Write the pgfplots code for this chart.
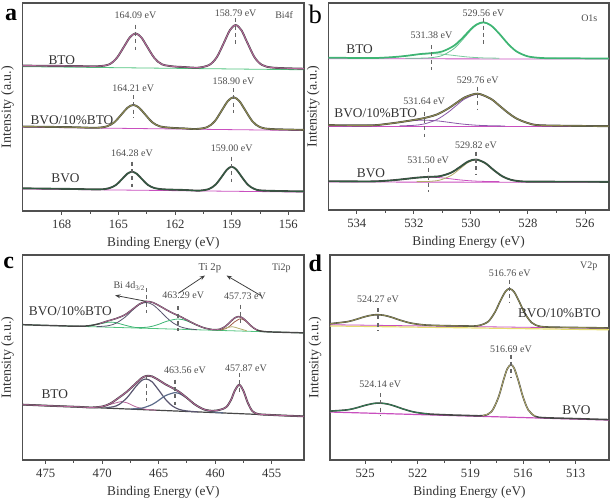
\documentclass[border=0pt]{standalone}
\usepackage{fontspec}
\setmainfont{Liberation Serif}
\usepackage{pgfplots}
\pgfplotsset{compat=1.18}
\usetikzlibrary{arrows.meta}

\definecolor{frame}{HTML}{505050}
\definecolor{envdk}{HTML}{474747}
\definecolor{pinkc}{HTML}{B8679C}
\definecolor{olivec}{HTML}{8E8C4E}
\definecolor{dkgreen}{HTML}{2F5E40}
\definecolor{magbl}{HTML}{C94FBF}
\definecolor{grnbl}{HTML}{52C47F}
\definecolor{greenc}{HTML}{3FB574}
\definecolor{purpc}{HTML}{8A5AA8}
\definecolor{graycomp}{HTML}{5A5670}
\definecolor{bluecomp}{HTML}{5B6B8A}
\definecolor{brownc}{HTML}{A0604C}
\definecolor{lolive}{HTML}{B3AC6A}
\definecolor{yelbl}{HTML}{E6DD6E}

\pgfplotsset{
  xps/.style={
    scale only axis, clip=false, anchor=north west,
    x dir=reverse, ymin=0, ymax=100, ytick=\empty,
    xtick pos=left, tick align=outside,
    minor x tick num=1,
    major tick length=3pt, minor tick length=2pt,
    every tick/.style={draw=frame, line width=0.7pt},
    axis line style={draw=frame, line width=0.9pt},
    xlabel={Binding Energy (eV)}, ylabel={Intensity (a.u.)},
    /pgf/number format/assume math mode=true,
    /pgf/number format/1000 sep={},
    xticklabel style={font=\fontsize{9.5}{10}\selectfont, text=black!80},
    xlabel style={font=\fontsize{10}{11}\selectfont, text=black!80},
    ylabel style={font=\fontsize{10.5}{12}\selectfont, text=black!80},
  },
  envd/.style={draw=envdk, line width=1.4pt, smooth},
  env/.style={smooth, line width=0.7pt},
  comp/.style={smooth, line width=0.6pt},
  bl/.style={line width=0.6pt},
}
\tikzset{
  mk/.style={draw=black!60, line width=0.9pt, dash pattern=on 3pt off 2.5pt},
  ann/.style={font=\fontsize{7.5}{8}\selectfont, text=black!70},
  samp/.style={font=\fontsize{10}{11}\selectfont, text=black!80},
  plab/.style={font=\fontsize{18}{18}\selectfont\bfseries},
}

\begin{document}
\begin{tikzpicture}
\useasboundingbox (0,0) rectangle (460.5pt,-373.5pt);

% ---------------- a: Bi4f
\begin{axis}[xps, at={(17pt,-2.25pt)}, width=211pt, height=156pt,
  xmin=155.17, xmax=170.07, xtick={156,159,162,165,168}]
% BTO
\addplot[bl, grnbl] coordinates {(170.07,69.4) (155.17,67.9)};
\addplot[envd] coordinates {(170.07,69.9) (167.5,69.7) (166.09,69.6) (165.49,70.5) (165.09,73.5) (164.69,79.2) (164.39,83.5) (164.09,85.4) (163.79,83.5) (163.49,79.2) (163.09,73.5) (162.69,70.5) (162.09,69.5) (161.5,69.2) (160.79,68.9) (160.19,70.2) (159.79,73.9) (159.39,81.3) (159.09,87.0) (158.79,89.4) (158.49,87.0) (158.19,81.3) (157.79,73.9) (157.39,70.2) (156.79,68.9) (155.17,68.4)};
\addplot[env, pinkc] coordinates {(170.07,69.9) (167.5,69.7) (166.09,69.6) (165.49,70.5) (165.09,73.5) (164.69,79.2) (164.39,83.5) (164.09,85.4) (163.79,83.5) (163.49,79.2) (163.09,73.5) (162.69,70.5) (162.09,69.5) (161.5,69.2) (160.79,68.9) (160.19,70.2) (159.79,73.9) (159.39,81.3) (159.09,87.0) (158.79,89.4) (158.49,87.0) (158.19,81.3) (157.79,73.9) (157.39,70.2) (156.79,68.9) (155.17,68.4)};
% BVO/10%BTO
\addplot[bl, magbl] coordinates {(170.07,40.3) (155.17,38.7)};
\addplot[envd] coordinates {(170.07,40.6) (167.5,40.3) (166.21,40.0) (165.61,40.7) (165.21,42.7) (164.81,46.7) (164.51,49.7) (164.21,51.0) (163.91,49.7) (163.61,46.7) (163.21,42.7) (162.81,40.7) (162.21,40.0) (161.5,39.7) (160.9,39.4) (160.3,40.3) (159.9,43.1) (159.5,48.7) (159.2,52.9) (158.9,54.7) (158.6,52.9) (158.3,48.7) (157.9,43.1) (157.5,40.3) (156.9,39.4) (155.17,39.0)};
\addplot[env, olivec] coordinates {(170.07,40.6) (167.5,40.3) (166.21,40.0) (165.61,40.7) (165.21,42.7) (164.81,46.7) (164.51,49.7) (164.21,51.0) (163.91,49.7) (163.61,46.7) (163.21,42.7) (162.81,40.7) (162.21,40.0) (161.5,39.7) (160.9,39.4) (160.3,40.3) (159.9,43.1) (159.5,48.7) (159.2,52.9) (158.9,54.7) (158.6,52.9) (158.3,48.7) (157.9,43.1) (157.5,40.3) (156.9,39.4) (155.17,39.0)};
% BVO
\addplot[bl, magbl] coordinates {(170.07,10.6) (155.17,9.1)};
\addplot[envd] coordinates {(170.07,10.9) (167.5,10.6) (165.98,10.4) (165.48,11.0) (165.13,12.5) (164.78,15.6) (164.53,17.9) (164.28,18.9) (164.03,17.9) (163.78,15.6) (163.43,12.5) (163.08,11.0) (162.58,10.4) (161.5,10.1) (160.7,9.8) (160.2,10.6) (159.85,12.7) (159.5,16.8) (159.25,19.9) (159.0,21.3) (158.75,19.9) (158.5,16.8) (158.15,12.7) (157.8,10.6) (157.3,9.8) (155.17,9.4)};
\addplot[env, dkgreen] coordinates {(170.07,10.9) (167.5,10.6) (165.98,10.4) (165.48,11.0) (165.13,12.5) (164.78,15.6) (164.53,17.9) (164.28,18.9) (164.03,17.9) (163.78,15.6) (163.43,12.5) (163.08,11.0) (162.58,10.4) (161.5,10.1) (160.7,9.8) (160.2,10.6) (159.85,12.7) (159.5,16.8) (159.25,19.9) (159.0,21.3) (158.75,19.9) (158.5,16.8) (158.15,12.7) (157.8,10.6) (157.3,9.8) (155.17,9.4)};
\draw[mk] (axis cs:164.09,89.6) -- (axis cs:164.09,77.4);
\draw[mk] (axis cs:158.79,92.6) -- (axis cs:158.79,80.0);
\draw[mk] (axis cs:164.21,55.8) -- (axis cs:164.21,44.7);
\draw[mk] (axis cs:158.90,59.1) -- (axis cs:158.90,47.1);
\draw[mk] (axis cs:164.28,23.7) -- (axis cs:164.28,11.7);
\draw[mk] (axis cs:159.00,26.1) -- (axis cs:159.00,14.1);
\node[ann] at (axis cs:164.09,94.2) {164.09 eV};
\node[ann] at (axis cs:158.79,95.0) {158.79 eV};
\node[ann] at (axis cs:164.21,59.0) {164.21 eV};
\node[ann] at (axis cs:158.90,62.2) {158.90 eV};
\node[ann] at (axis cs:164.28,27.7) {164.28 eV};
\node[ann] at (axis cs:159.00,30.1) {159.00 eV};
\node[ann, anchor=east] at (axis cs:155.5,94.2) {Bi4f};
\node[samp] at (axis cs:168.0,72.6) {BTO};
\node[samp, anchor=west] at (axis cs:169.9,43.8) {BVO/10\%BTO};
\node[samp] at (axis cs:167.8,15.7) {BVO};
\end{axis}

% ---------------- b: O1s
\begin{axis}[xps, at={(246.2pt,-2.25pt)}, width=210.5pt, height=155.25pt,
  xmin=525.16, xmax=535.0, xtick={526,528,530,532,534}]
% BTO
\addplot[bl, magbl] coordinates {(535.0,73.1) (525.16,72.9)};
\addplot[comp, greenc!70] coordinates {(534.0,73.3) (533.5,73.37) (532.8,73.76) (532.3,74.44) (531.8,75.22) (531.38,75.5) (531.0,75.26) (530.6,74.67) (530.3,74.18) (530.0,73.8) (529.56,73.47) (529.0,73.33)};
\addplot[comp, greenc!80] coordinates {(532.3,73.3) (531.8,73.34) (531.38,73.6) (531.0,74.67) (530.6,77.89) (530.3,82.12) (530.0,86.87) (529.8,89.33) (529.56,90.5) (529.3,89.14) (529.0,85.03) (528.7,80.27) (528.4,76.62) (528.0,74.18) (527.5,73.4) (527.0,73.3)};
\addplot[env, greenc, line width=1.3pt] coordinates {(535.0,73.6) (533.5,73.4) (532.8,73.8) (532.3,74.4) (531.8,75.3) (531.38,75.8) (531.0,76.6) (530.6,79.3) (530.3,83.0) (530.0,87.4) (529.8,89.6) (529.56,90.7) (529.3,89.2) (529.0,85.1) (528.7,80.3) (528.4,76.6) (528.0,74.2) (527.5,73.4) (527.0,73.3) (525.16,73.2)};
% BVO/10%BTO
\addplot[bl, magbl] coordinates {(535.0,40.4) (525.16,40.3)};
\addplot[comp, purpc] coordinates {(534.5,40.6) (533.5,40.93) (533.0,41.49) (532.5,42.37) (532.0,43.18) (531.64,43.4) (531.2,43.08) (530.8,42.41) (530.5,41.85) (530.2,41.38) (529.76,40.92) (529.3,40.7) (528.8,40.6)};
\addplot[comp, purpc] coordinates {(532.5,40.64) (532.0,40.9) (531.64,41.56) (531.2,43.63) (530.8,47.18) (530.5,50.58) (530.2,53.76) (529.76,55.9) (529.3,53.57) (529.0,50.35) (528.7,46.96) (528.4,44.21) (528.0,41.96) (527.5,40.88) (527.0,40.6)};
\addplot[envd] coordinates {(535.0,41.0) (533.5,40.9) (533.0,41.5) (532.5,42.4) (532.0,43.5) (531.64,44.4) (531.2,46.1) (530.8,49.0) (530.5,51.8) (530.2,54.5) (529.76,56.2) (529.3,53.7) (529.0,50.4) (528.7,47.0) (528.4,44.2) (528.0,42.0) (527.5,40.9) (525.16,40.5)};
\addplot[env, olivec] coordinates {(535.0,41.0) (533.5,40.9) (533.0,41.5) (532.5,42.4) (532.0,43.5) (531.64,44.4) (531.2,46.1) (530.8,49.0) (530.5,51.8) (530.2,54.5) (529.76,56.2) (529.3,53.7) (529.0,50.4) (528.7,47.0) (528.4,44.2) (528.0,42.0) (527.5,40.9) (525.16,40.5)};
% BVO
\addplot[bl, magbl] coordinates {(535.0,13.5) (525.16,13.4)};
\addplot[comp, magbl] coordinates {(534.2,13.7) (533.5,13.8) (532.8,14.29) (532.3,15.04) (531.9,15.64) (531.5,15.9) (531.1,15.64) (530.7,15.04) (530.4,14.56) (530.1,14.18) (529.82,13.94) (529.5,13.8) (529.0,13.7)};
\addplot[comp, lolive] coordinates {(531.9,13.7) (531.5,13.79) (531.1,14.4) (530.7,16.62) (530.4,19.72) (530.1,22.92) (529.82,24.2) (529.5,22.56) (529.2,19.27) (528.9,16.29) (528.6,14.59) (528.2,13.84) (527.6,13.7)};
\addplot[envd] coordinates {(535.0,13.9) (533.5,13.8) (532.8,14.3) (532.3,15.0) (531.9,15.6) (531.5,16.0) (531.1,16.3) (530.7,18.0) (530.4,20.6) (530.1,23.4) (529.82,24.4) (529.5,22.7) (529.2,19.3) (528.9,16.3) (528.6,14.6) (528.2,13.8) (527.5,13.7) (525.16,13.6)};
\addplot[env, dkgreen] coordinates {(535.0,13.9) (533.5,13.8) (532.8,14.3) (532.3,15.0) (531.9,15.6) (531.5,16.0) (531.1,16.3) (530.7,18.0) (530.4,20.6) (530.1,23.4) (529.82,24.4) (529.5,22.7) (529.2,19.3) (528.9,16.3) (528.6,14.6) (528.2,13.8) (527.5,13.7) (525.16,13.6)};
\draw[mk] (axis cs:529.56,92.6) -- (axis cs:529.56,80.0);
\draw[mk] (axis cs:531.38,79.7) -- (axis cs:531.38,67.6);
\draw[mk] (axis cs:529.76,59.6) -- (axis cs:529.76,48.3);
\draw[mk] (axis cs:531.64,47.5) -- (axis cs:531.64,35.4);
\draw[mk] (axis cs:529.82,28.2) -- (axis cs:529.82,16.9);
\draw[mk] (axis cs:531.50,20.1) -- (axis cs:531.50,8.8);
\node[ann] at (axis cs:529.56,95.0) {529.56 eV};
\node[ann] at (axis cs:531.38,84.5) {531.38 eV};
\node[ann] at (axis cs:529.76,62.8) {529.76 eV};
\node[ann] at (axis cs:531.64,52.3) {531.64 eV};
\node[ann] at (axis cs:529.82,31.4) {529.82 eV};
\node[ann] at (axis cs:531.50,24.2) {531.50 eV};
\node[ann, anchor=east] at (axis cs:525.4,92.6) {O1s};
\node[samp] at (axis cs:533.9,77.6) {BTO};
\node[samp, anchor=west] at (axis cs:534.95,46.7) {BVO/10\%BTO};
\node[samp] at (axis cs:533.5,18.0) {BVO};
\end{axis}

% ---------------- c: Ti2p
\begin{axis}[xps, at={(17pt,-191.25pt)}, width=211pt, height=153.75pt,
  xmin=452.14, xmax=477.04, xtick={455,460,465,470,475}]
% BVO/10%BTO
\addplot[bl, grnbl] coordinates {(477.04,66.0) (452.14,62.0)};
\addplot[comp, greenc] coordinates {(471.5,65.3) (470.2,66.43) (469.5,67.19) (469.2,67.25) (468.8,67.0) (468.0,65.78) (467.3,64.86) (466.5,64.3)};
\addplot[comp, graycomp] coordinates {(470.5,65.05) (469.5,65.46) (468.8,66.65) (468.0,69.58) (467.3,73.18) (466.7,75.85) (466.1,76.85) (465.5,75.66) (464.9,72.79) (464.3,69.47) (463.7,66.77) (463.1,65.04) (462.5,64.14) (461.6,63.53)};
\addplot[comp, greenc] coordinates {(467.0,64.6) (466.1,64.73) (465.5,65.34) (464.9,66.38) (464.3,67.66) (463.29,68.8) (462.5,67.84) (461.8,66.15) (461.0,64.49) (460.2,63.6) (459.3,63.15)};
\addplot[comp, brownc] coordinates {(459.6,63.37) (459.1,64.0) (458.7,65.35) (458.3,67.3) (457.73,68.9) (457.2,67.31) (456.8,65.23) (456.3,63.41) (455.6,62.62)};
\addplot[comp, lolive] coordinates {(459.8,63.43) (459.1,64.33) (458.5,65.02) (457.95,64.24) (457.2,63.0)};
\addplot[envd, line width=1.1pt] coordinates {(477.04,66.0) (474,65.5) (472,65.25) (471,65.6) (470.2,66.6) (469.5,67.85) (468.8,68.96) (468.0,70.8) (467.3,73.6) (466.7,76.1) (466.1,77.35) (465.5,76.8) (464.9,75.1) (464.3,73.2) (463.7,71.5) (463.1,70.0) (462.5,68.3) (461.8,66.3) (461.0,64.5) (460.2,63.6) (459.6,63.8) (459.1,65.2) (458.7,67.2) (458.3,69.2) (457.95,69.95) (457.6,69.4) (457.2,67.5) (456.8,65.3) (456.3,63.4) (455.6,62.6) (454,62.3) (452.14,62.0)};
\addplot[env, pinkc, line width=0.5pt] coordinates {(470.2,66.6) (469.5,67.85) (468.8,68.96) (468.0,70.8) (467.3,73.6) (466.7,76.1) (466.1,77.35) (465.5,76.8) (464.9,75.1) (464.3,73.2) (463.7,71.5) (463.1,70.0) (462.5,68.3) (461.8,66.3) (461.0,64.5) (460.2,63.6) (459.6,63.8) (459.1,65.2) (458.7,67.2) (458.3,69.2) (457.95,69.95) (457.6,69.4) (457.2,67.5) (456.8,65.3) (456.3,63.4)};
% BTO
\addplot[bl, envdk, line width=0.9pt] coordinates {(477.04,27.0) (452.14,21.3)};
\addplot[comp, pinkc] coordinates {(471,25.6) (470,26.0) (469.3,27.1) (468.3,28.5) (467.8,27.9) (467.0,25.9) (466.1,24.7) (465.2,24.3)};
\addplot[comp, graycomp, line width=0.9pt] coordinates {(469.7,25.5) (469.0,26.0) (468.5,27.1) (467.8,30.4) (467.0,36.0) (466.5,38.8) (466.1,39.5) (465.6,38.2) (465.0,34.1) (464.4,29.6) (463.8,26.4) (463.2,24.7) (462.5,23.9) (461.5,23.45)};
\addplot[comp, bluecomp, line width=0.9pt] coordinates {(467.5,24.9) (466.5,25.3) (465.6,27.0) (465.0,29.1) (464.4,31.4) (463.56,32.9) (463.2,32.5) (462.5,30.2) (461.8,27.1) (461.0,24.6) (460.2,23.5) (459.3,23.0)};
\addplot[envd] coordinates {(477.04,27.0) (474,26.3) (472,25.9) (471,25.6) (470,26.1) (469.3,27.5) (468.5,30.5) (467.8,33.4) (467.0,37.5) (466.5,40.0) (466.1,41.0) (465.6,40.8) (465.0,39.0) (464.4,36.9) (463.8,35.2) (463.2,33.3) (462.5,30.3) (461.8,27.1) (461.0,24.7) (460.2,24.0) (459.5,24.6) (459.0,25.9) (458.6,29.3) (458.25,34.0) (457.87,36.7) (457.5,33.7) (457.1,27.7) (456.7,23.8) (456.2,22.4) (455.5,22.1) (454,21.7) (452.14,21.3)};
\addplot[env, pinkc, line width=0.6pt] coordinates {(477.04,27.0) (474,26.3) (472,25.9) (471,25.6) (470,26.1) (469.3,27.5) (468.5,30.5) (467.8,33.4) (467.0,37.5) (466.5,40.0) (466.1,41.0) (465.6,40.8) (465.0,39.0) (464.4,36.9) (463.8,35.2) (463.2,33.3) (462.5,30.3) (461.8,27.1) (461.0,24.7) (460.2,24.0) (459.5,24.6) (459.0,25.9) (458.6,29.3) (458.25,34.0) (457.87,36.7) (457.5,33.7) (457.1,27.7) (456.7,23.8) (456.2,22.4) (455.5,22.1) (454,21.7) (452.14,21.3)};
\draw[mk] (axis cs:466.1,83.9) -- (axis cs:466.1,71.7);
\draw[mk] (axis cs:463.29,75.0) -- (axis cs:463.29,62.8);
\draw[mk] (axis cs:457.73,75.8) -- (axis cs:457.73,66.0);
\draw[mk] (axis cs:466.1,40.8) -- (axis cs:466.1,28.6);
\draw[mk] (axis cs:463.56,39.2) -- (axis cs:463.56,27.0);
\draw[mk] (axis cs:457.87,42.4) -- (axis cs:457.87,31.7);
\node[ann, font=\fontsize{8}{9}\selectfont] at (axis cs:460.47,93.7) {Ti 2p};
\draw[-{Stealth[length=4pt,width=3pt]}, black!75, line width=0.6pt] (axis cs:463.27,81.3) -- (axis cs:460.9,90.0);
\draw[-{Stealth[length=4pt,width=3pt]}, black!75, line width=0.6pt] (axis cs:455.9,80.0) -- (axis cs:459.0,90.0);
\node[ann] at (axis cs:467.6,84.9) {Bi 4d\textsubscript{3/2}};
\draw[-{Stealth[length=4pt,width=3pt]}, black!75, line width=0.6pt] (axis cs:466.1,77.4) -- (axis cs:468.86,80.3);
\node[ann] at (axis cs:462.83,80.6) {463.29 eV};
\node[ann] at (axis cs:457.37,79.8) {457.73 eV};
\node[ann] at (axis cs:462.68,43.6) {463.56 eV};
\node[ann] at (axis cs:457.28,44.9) {457.87 eV};
\node[ann, anchor=east] at (axis cs:452.9,93.7) {Ti2p};
\node[samp, anchor=west] at (axis cs:476.9,72.5) {BVO/10\%BTO};
\node[samp] at (axis cs:474.2,31.9) {BTO};
\end{axis}

% ---------------- d: V2p
\begin{axis}[xps, at={(247.5pt,-191.25pt)}, width=209.25pt, height=153.75pt,
  xmin=511.1, xmax=527.0, xtick={513,516,519,522,525}]
% BVO/10%BTO
\addplot[bl, yelbl, line width=0.9pt] coordinates {(527.0,65.4) (511.1,63.5)};
\addplot[bl, magbl] coordinates {(527.0,66.0) (511.1,64.2)};
\addplot[envd, line width=1.2pt] coordinates {(527.0,66.48) (526.0,67.48) (525.5,68.62) (525.0,69.93) (524.6,70.68) (524.27,70.87) (523.9,70.54) (523.5,69.65) (523.0,68.21) (522.4,66.79) (521.6,65.86) (520.5,65.53) (519.5,65.4) (518.6,65.47) (518.0,67.41) (517.6,72.12) (517.3,77.48) (517.0,82.18) (516.76,83.58) (516.5,81.89) (516.2,76.98) (515.9,71.6) (515.5,66.97) (515.0,65.12) (514.0,64.75) (512.5,64.57) (511.1,64.4)};
\addplot[env, olivec, line width=0.6pt] coordinates {(527.0,66.48) (526.0,67.48) (525.5,68.62) (525.0,69.93) (524.6,70.68) (524.27,70.87) (523.9,70.54) (523.5,69.65) (523.0,68.21) (522.4,66.79) (521.6,65.86) (520.5,65.53) (519.5,65.4) (518.6,65.47) (518.0,67.41) (517.6,72.12) (517.3,77.48) (517.0,82.18) (516.76,83.58) (516.5,81.89) (516.2,76.98) (515.9,71.6) (515.5,66.97) (515.0,65.12) (514.0,64.75) (512.5,64.57) (511.1,64.4)};
% BVO
\addplot[bl, magbl, line width=0.9pt] coordinates {(527.0,23.4) (511.1,19.5)};
\addplot[envd, line width=1.2pt] coordinates {(527.0,23.83) (526.0,24.48) (525.5,25.43) (525.0,26.66) (524.5,27.6) (524.14,27.78) (523.7,27.27) (523.3,26.28) (522.8,24.8) (522.2,23.39) (521.4,22.46) (520.3,22.01) (519.3,21.76) (518.3,21.64) (517.8,23.54) (517.4,30.55) (517.1,39.35) (516.9,44.41) (516.69,46.5) (516.5,44.68) (516.25,38.24) (516.0,30.73) (515.7,24.43) (515.3,21.28) (514.8,20.63) (513.5,20.3) (511.1,19.7)};
\addplot[env, greenc!70!black, line width=0.6pt] coordinates {(527.0,23.83) (526.0,24.48) (525.5,25.43) (525.0,26.66) (524.5,27.6) (524.14,27.78) (523.7,27.27) (523.3,26.28) (522.8,24.8) (522.2,23.39) (521.4,22.46)};
\addplot[env, lolive, line width=0.6pt] coordinates {(518.3,21.64) (517.8,23.54) (517.4,30.55) (517.1,39.35) (516.9,44.41) (516.69,46.5) (516.5,44.68) (516.25,38.24) (516.0,30.73) (515.7,24.43) (515.3,21.28)};
\draw[mk] (axis cs:516.76,88.0) -- (axis cs:516.76,76.6);
\draw[mk] (axis cs:524.27,74.1) -- (axis cs:524.27,62.8);
\draw[mk] (axis cs:516.69,51.4) -- (axis cs:516.69,40.0);
\draw[mk] (axis cs:524.14,32.7) -- (axis cs:524.14,21.3);
\node[ann] at (axis cs:516.76,91.2) {516.76 eV};
\node[ann] at (axis cs:524.27,78.2) {524.27 eV};
\node[ann] at (axis cs:516.69,53.8) {516.69 eV};
\node[ann] at (axis cs:524.14,36.7) {524.14 eV};
\node[ann, anchor=east] at (axis cs:511.5,94.5) {V2p};
\node[samp, anchor=east] at (axis cs:511.3,71.7) {BVO/10\%BTO};
\node[samp] at (axis cs:512.95,24.5) {BVO};
\end{axis}

\node[plab] at (8.25pt,-11.25pt) {a};
\node[plab, font=\fontsize{20}{20}\selectfont] at (236.5pt,-11pt) {b};
\node[plab] at (6.5pt,-197.25pt) {c};
\node[plab] at (236.5pt,-197.25pt) {d};
\end{tikzpicture}
\end{document}
